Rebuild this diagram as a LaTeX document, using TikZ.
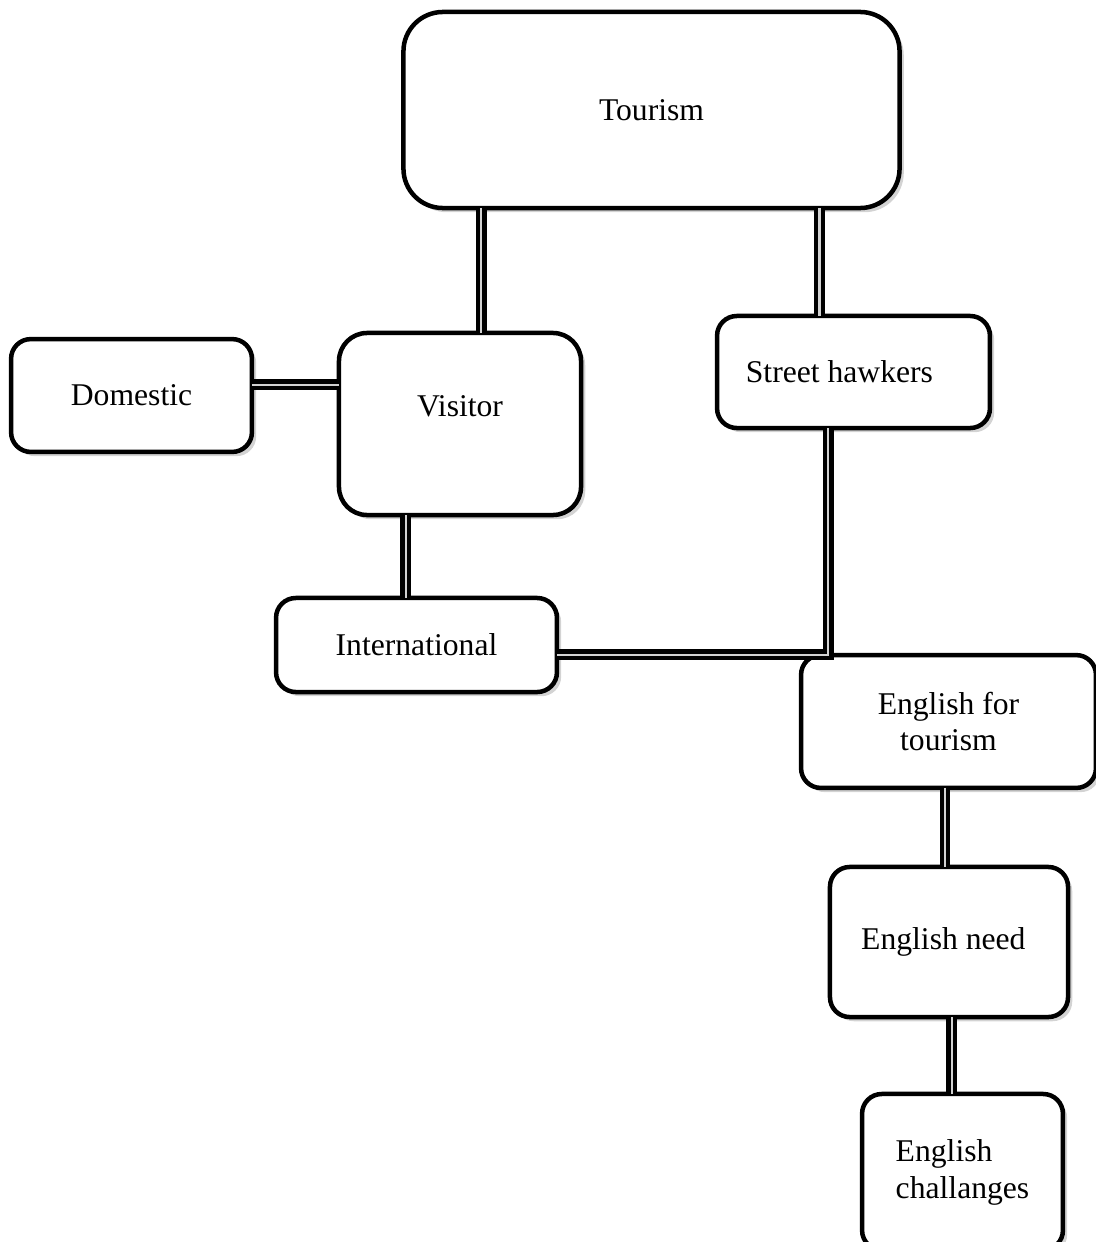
\documentclass[tikz,border=0pt]{standalone}
\usepackage{fontspec}
\setmainfont{Liberation Serif}
\usetikzlibrary{shadows}

\begin{document}
\begin{tikzpicture}[x=0.025cm, y=-0.025cm,
    box/.style = {draw=black, line width=3.2pt, fill=white, rounded corners=#1,
                inner sep=0pt, outer sep=0pt, align=center,
                font=\fontsize{22.5}{26.3}\selectfont,
                drop shadow={shadow xshift=3pt, shadow yshift=-3pt, opacity=.35}},
    box/.default = 14pt,  % radius of the corners
    link/.style = {draw=black, line width=3pt, double=gray!35, double distance=1.8pt}
                    ]
        \useasboundingbox (0,0) rectangle (1096,1242);
        \node[box=28pt, minimum width=12.4cm, minimum height=4.9cm] at (651.5,110) (tourism) {Tourism};
        \node[box=20pt, minimum width=6.05cm, minimum height=4.55cm, text depth=25pt] at (460,424) (visitor) {Visitor};
        \foreach \x/\y/\w/\h/\n/\t in {131.5/395.5/6.02/2.82/domestic/Domestic,
                                       853.5/372/6.82/2.8/hawkers/Street hawkers\hspace{20pt},
                                       416.5/645/7.02/2.35/intl/International,
                                       948.5/721.5/7.37/3.32/eft/English for\\tourism,
                                       949/942/5.95/3.75/need/English need\hspace{8pt}}
            \node[box, minimum width=\w cm, minimum height=\h cm] at (\x,\y) (\n) {\t};
        \node[box, minimum width=5.02cm, minimum height=3.9cm, align=left] at (962.5,1172) (chall) {English\\challanges\hspace{6pt}};
        \draw[link] ([xshift=15pt]visitor.north |- tourism.south) -- ([xshift=15pt]visitor.north);
        \draw[link] ([xshift=-24pt]hawkers.north |- tourism.south) -- ([xshift=-24pt]hawkers.north);
        \draw[link] ([yshift=7.5pt]domestic.east) -- ([yshift=7.5pt]domestic.east -| visitor.west);
        \draw[link] ([xshift=-7.5pt]intl.north |- visitor.south) -- ([xshift=-7.5pt]intl.north);
        \draw[link] ([yshift=-7pt]intl.east) -| ([xshift=-18pt]hawkers.south);
        \draw[link] ([xshift=-2.5pt]eft.south) -- ([xshift=-2.5pt]eft.south |- need.north);
        \draw[link] ([xshift=2pt]need.south) -- ([xshift=2pt]need.south |- chall.north);
    \end{tikzpicture}
\end{document}
